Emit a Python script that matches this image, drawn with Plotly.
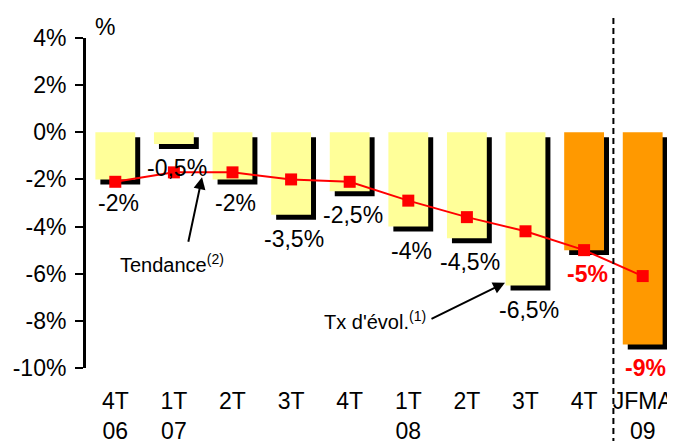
import plotly.graph_objects as go

# Données
periodes = ["4T<br>06", "1T<br>07", "2T", "3T", "4T", "1T<br>08", "2T", "3T", "4T", "JFMA<br>09"]
tx_evol = [-2, -0.5, -2, -3.5, -2.5, -4, -4.5, -6.5, -5, -9]
tendance = [-2.1, -1.7, -1.7, -2.0, -2.1, -2.9, -3.6, -4.2, -5.0, -6.1]
labels = ["-2%", "-0,5%", "-2%", "-3,5%", "-2,5%", "-4%", "-4,5%", "-6,5%", "-5%", "-9%"]
y_ticks = [4, 2, 0, -2, -4, -6, -8, -10]
y_ticktext = ["4%", "2%", "0%", "-2%", "-4%", "-6%", "-8%", "-10%"]

FONT = "Arial, Liberation Sans, sans-serif"
x = list(range(len(periodes)))
n_recents = 2  # dernières périodes en orange
couleurs = ["#FFFF99"] * (len(x) - n_recents) + ["#FF9900"] * n_recents

largeur = 0.68
dx, dy = 0.085, 0.21  # décalage de l'ombre

fig = go.Figure()

# Ombre
fig.add_trace(go.Bar(
    x=x, y=tx_evol, base=-dy, width=largeur, offset=-largeur / 2 + dx,
    marker=dict(color="black", line=dict(width=0)), hoverinfo="skip", showlegend=False
))
# Barres
fig.add_trace(go.Bar(
    x=x, y=tx_evol, width=largeur, offset=-largeur / 2,
    marker=dict(color=couleurs, line=dict(width=0)), showlegend=False
))
# Tendance
fig.add_trace(go.Scatter(
    x=x, y=tendance, mode="lines+markers",
    line=dict(color="#FF0000", width=2),
    marker=dict(symbol="square", size=12, color="#FF0000"),
    showlegend=False
))

# Etiquettes de valeurs
for i, (v, t) in enumerate(zip(tx_evol, labels)):
    recent = i >= len(x) - n_recents
    fig.add_annotation(
        x=i, y=v, text=f"<b>{t}</b>" if recent else t, showarrow=False,
        xanchor="center", yanchor="middle", yshift=-24, xshift=3,
        font=dict(family=FONT, size=23, color="#FF0000" if recent else "black")
    )

fig.add_annotation(x=0.032, y=1.033, xref="paper", yref="paper", text="%",
                   xanchor="center", yanchor="middle",
                   showarrow=False, font=dict(family=FONT, size=23, color="black"))

# Tendance
fig.add_annotation(x=0.97, y=-5.57, text="Tendance<sup>(2)</sup>", showarrow=False,
                   xanchor="center", yanchor="middle",
                   font=dict(family=FONT, size=20, color="black"))
fig.add_annotation(x=1.48, y=-1.91, text="", showarrow=True, ax=-14, ay=66,
                   arrowhead=2, arrowsize=1.2, arrowwidth=2, arrowcolor="black")
# Tx d'évol.
fig.add_annotation(x=4.43, y=-8.0, text="Tx d'évol.<sup>(1)</sup>", showarrow=False,
                   xanchor="center", yanchor="middle",
                   font=dict(family=FONT, size=20, color="black"))
fig.add_annotation(x=6.65, y=-6.38, text="", showarrow=True, ax=-75, ay=37,
                   arrowhead=2, arrowsize=1.2, arrowwidth=2, arrowcolor="black")

# Séparation 2008 / 2009
fig.add_shape(type="line", xref="x", yref="paper", x0=8.5, x1=8.5, y0=-0.23, y1=1.07,
              line=dict(color="black", width=2, dash="6px,4px"))

ymin, ymax = -10, 4
# la page ajoute 8px de marge : la figure fait 667x433
fig.update_layout(
    width=667, height=433,
    margin=dict(l=78, r=3, t=30, b=73),
    plot_bgcolor="white", paper_bgcolor="white",
    barmode="overlay",
    font=dict(family=FONT, size=23, color="black"),
    xaxis=dict(
        range=[-0.5, len(x) - 0.5], tickvals=x, ticktext=periodes,
        showline=False, showgrid=False, zeroline=False, ticks="",
        ticklabelstandoff=17, tickfont=dict(size=23), automargin=False
    ),
    xaxis2=dict(
        overlaying="x", anchor="free", position=(0 - ymin) / (ymax - ymin),
        range=[-0.5, len(x) - 0.5], tickvals=[i + 0.5 for i in x],
        showticklabels=False, showline=True, linecolor="black", linewidth=2,
        ticks="outside", ticklen=6, tickwidth=2, tickcolor="black",
        showgrid=False, zeroline=False, automargin=False
    ),
    yaxis=dict(
        range=[ymin, ymax], tickvals=y_ticks, ticktext=y_ticktext,
        showline=True, linecolor="black", linewidth=3,
        ticks="outside", ticklen=8, tickwidth=2, tickcolor="black",
        showgrid=False, zeroline=False, ticklabelstandoff=4,
        tickfont=dict(size=23), automargin=False
    ),
)

fig.write_html("out.html")
